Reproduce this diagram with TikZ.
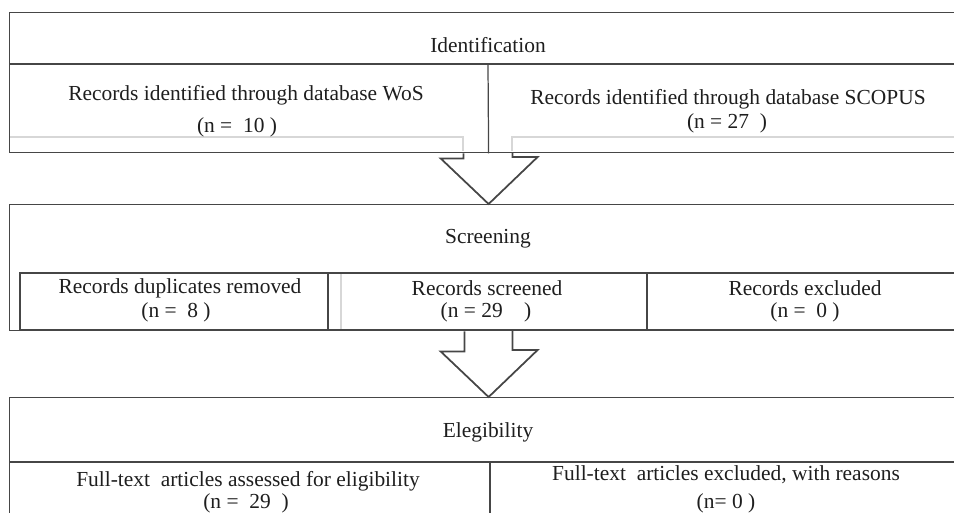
\documentclass[tikz,border=0pt]{standalone}
\usepackage{fontspec}
\setmainfont{Liberation Serif}
\usepackage{xcolor}
\usepackage{tikz}
\usetikzlibrary{calc, positioning}
\definecolor{rule}{RGB}{70,70,70}
\definecolor{faint}{RGB}{215,215,215}
\definecolor{ink}{RGB}{30,30,30}

\begin{document}
\begin{tikzpicture}[
    x=0.02cm, y=-0.02cm,
    every node/.style={text=ink, font=\fontsize{12.2}{14}\selectfont, inner sep=0pt},
    panel/.style={draw=rule, line width=0.8pt, anchor=north west, minimum width=19.16cm},
    hline/.style={draw=rule, line width=1.1pt},
    vline/.style={draw=rule, line width=0.7pt},
    ghost/.style={draw=faint, line width=0.8pt},
    blockarrow/.style={draw=rule, line width=1pt, line join=miter}
]
\useasboundingbox (0,0) rectangle (954,512);
\clip (0,0) rectangle (954,512);

% stage panels
\node[panel, minimum height=2.80cm] (ident)  at (9,12)  {};
\node[panel, minimum height=2.52cm] (screen) at (9,204) {};
\node[panel, minimum height=2.60cm] (elig)   at (9,397) {};

% identification
\draw[hline] (9,64) -- (967,64);
\draw[vline] (488,64) -- (ident.south);
\draw[ghost] (10,137) -- (463,137) -- (463,151);
\draw[ghost] (512,151) -- (512,137) -- (966,137);
\node (identT) at (488,45) {Identification};
\node (wos)    at (246,95)  {Records identified through database WoS};
\node (wosN)   at (237,127) {(n =\ \ 10 )};
\node (scop)   at (728,99)  {Records identified through database SCOPUS};
\node (scopN)  at (727,123) {(n = 27\ \ )};

% screening
\draw[hline] (20,273) rectangle (967,330);
\draw[vline] (328,273) -- (328,330);
\draw[vline] (647,273) -- (647,330);
\draw[ghost] (341,274) -- (341,329);
\node (screenT) at (488,239) {Screening};
\node (dup)     at (180,288) {Records duplicates removed};
\node (dupN)    at (176,312.5) {(n =\ \ 8 )};
\node (scr)     at (487,288) {Records screened};
\node (scrN)    at (486,312.5) {(n = 29\ \ \ \ )};
\node (exc)     at (805,288) {Records excluded};
\node (excN)    at (805,312.5) {(n =\ \ 0 )};

% eligibility
\draw[hline] (9,462) -- (967,462);
\draw[vline] (490,462) -- (490,520);
\node (eligT) at (488,432) {Elegibility};
\node (full)  at (248,481) {Full-text\ \ articles assessed for eligibility};
\node (fullN) at (246,503) {(n =\ \ 29\ \ )};
\node (fexc)  at (726,475) {Full-text\ \ articles excluded, with reasons};
\node (fexcN) at (726,503) {(n= 0 )};

% block arrows between stages
\draw[blockarrow] ($(ident.south)+(-25,0)$) -- ++(0,5) -- ++(-23,0)
    -- (screen.north) -- ++(49,-47) -- ++(-25,0) -- ++(0,-5);
\draw[blockarrow] ($(screen.south)+(-24,0)$) -- ++(0,20) -- ++(-24,0)
    -- (elig.north) -- ++(49,-47) -- ++(-25,0) -- ++(0,-20);
\end{tikzpicture}
\end{document}
